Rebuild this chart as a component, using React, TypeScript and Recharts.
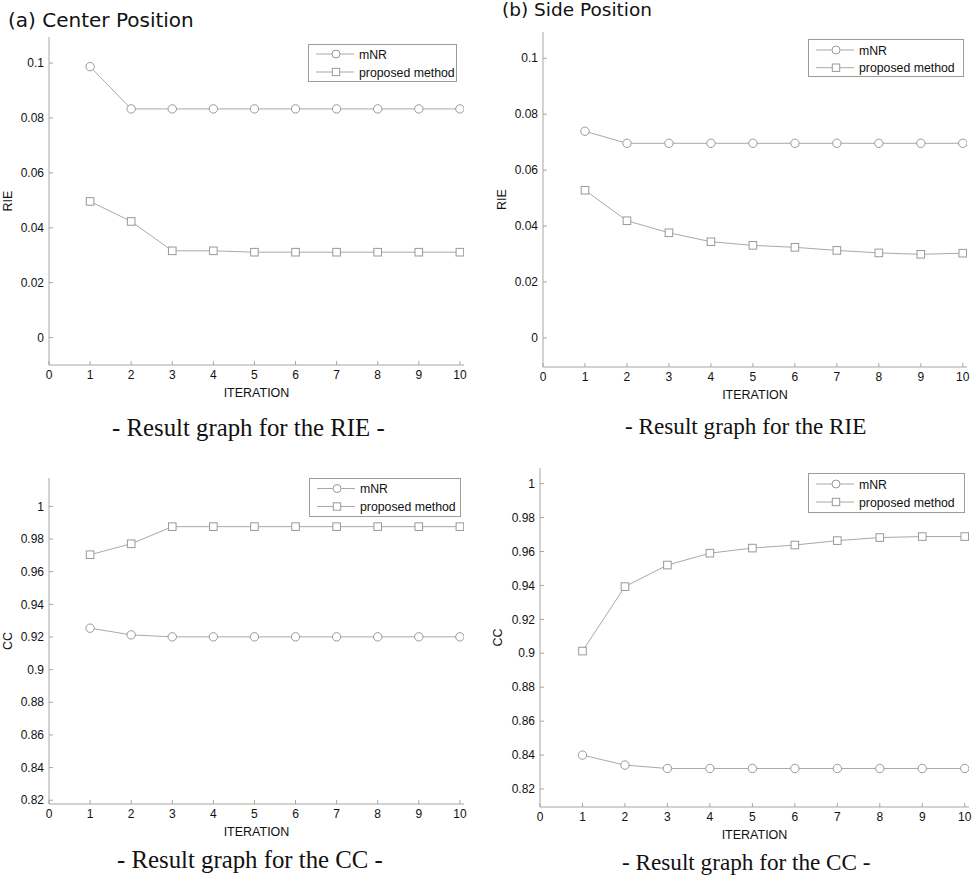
import { LineChart, Line, XAxis, YAxis, Legend } from 'recharts';

const ITERATIONS = [1, 2, 3, 4, 5, 6, 7, 8, 9, 10];
const X_TICKS = [0, 1, 2, 3, 4, 5, 6, 7, 8, 9, 10];

// (a) center position
const CENTER_RIE_MNR = [0.0987, 0.0833, 0.0833, 0.0833, 0.0833, 0.0833, 0.0833, 0.0833, 0.0833, 0.0833];
const CENTER_RIE_PROPOSED = [0.0496, 0.0423, 0.0316, 0.0316, 0.0311, 0.0311, 0.0311, 0.0311, 0.0311, 0.0311];
const CENTER_CC_MNR = [0.9254, 0.9213, 0.9201, 0.9201, 0.9201, 0.9201, 0.9201, 0.9201, 0.9201, 0.9201];
const CENTER_CC_PROPOSED = [0.9704, 0.9771, 0.9876, 0.9876, 0.9876, 0.9876, 0.9876, 0.9876, 0.9876, 0.9876];

// (b) side position
const SIDE_RIE_MNR = [0.0739, 0.0696, 0.0696, 0.0696, 0.0696, 0.0696, 0.0696, 0.0696, 0.0696, 0.0696];
const SIDE_RIE_PROPOSED = [0.0528, 0.0419, 0.0376, 0.0344, 0.0331, 0.0324, 0.0313, 0.0304, 0.0299, 0.0303];
const SIDE_CC_MNR = [0.84, 0.8341, 0.8321, 0.8321, 0.8321, 0.8321, 0.8321, 0.8321, 0.8321, 0.8321];
const SIDE_CC_PROPOSED = [0.9013, 0.9393, 0.952, 0.959, 0.962, 0.9638, 0.9664, 0.9682, 0.9688, 0.9688];

const RIE_TICKS = [0, 0.02, 0.04, 0.06, 0.08, 0.1];
const CC_TICKS = [0.82, 0.84, 0.86, 0.88, 0.9, 0.92, 0.94, 0.96, 0.98, 1];

const SERIES_NAMES = ['mNR', 'proposed method'];

const LINE = '#a9a9a9';
const MARK = '#999';
const AXIS = '#a6a6a6';
const TEXT = '#111';
const SANS = '"Liberation Sans", Arial, sans-serif';

function buildRows(mnr: number[], proposed: number[]) {
  return ITERATIONS.map((it, i) => ({ it, mnr: mnr[i], proposed: proposed[i] }));
}

function XTick(props: any) {
  const { x, y, payload } = props;
  return (
    <g>
      <line x1={x} x2={x} y1={y} y2={y - 4} stroke={AXIS} />
      <text x={x} y={y + 14.3} textAnchor="middle" fontSize={12} fontFamily={SANS} fill={TEXT}>
        {payload.value}
      </text>
    </g>
  );
}

function YTick(props: any) {
  const { x, y, payload } = props;
  return (
    <g>
      <line x1={x} x2={x + 4} y1={y} y2={y} stroke={AXIS} />
      <text x={x - 5} y={y + 4.2} textAnchor="end" fontSize={12} fontFamily={SANS} fill={TEXT}>
        {payload.value}
      </text>
    </g>
  );
}

function CircleDot(props: any) {
  const { cx, cy } = props;
  if (cx == null || cy == null) return <g />;
  return <circle cx={cx} cy={cy} r={4.2} fill="#fff" stroke={MARK} strokeWidth={1} />;
}

function SquareDot(props: any) {
  const { cx, cy } = props;
  if (cx == null || cy == null) return <g />;
  return <rect x={cx - 3.8} y={cy - 3.8} width={7.6} height={7.6} fill="#fff" stroke={MARK} strokeWidth={1} />;
}

function makeLegend(boxW: number, boxH: number, rows: number[]) {
  return function LegendBox(props: any) {
    const items = props.payload || [];
    return (
      <svg width={boxW} height={boxH} style={{ display: 'block' }}>
        <rect x={0.5} y={0.5} width={boxW - 1} height={boxH - 1} fill="#fff" stroke="#9c9c9c" />
        {items.map((entry: any, i: number) => {
          const cy = rows[i];
          return (
            <g key={entry.value}>
              <line x1={8} x2={46} y1={cy} y2={cy} stroke={LINE} />
              {entry.type === 'square' ? (
                <rect x={24.3} y={cy - 3.7} width={7.4} height={7.4} fill="#fff" stroke={MARK} />
              ) : (
                <circle cx={28} cy={cy} r={4} fill="#fff" stroke={MARK} />
              )}
              <text x={51} y={cy + 4.5} fontSize={12.3} fontFamily={SANS} fill={TEXT}>
                {entry.value}
              </text>
            </g>
          );
        })}
      </svg>
    );
  };
}

interface PanelProps {
  left: number;
  top: number;
  width: number;
  height: number;
  margin: { top: number; right: number; bottom: number; left: number };
  yWidth: number;
  yDomain: [number, number];
  yTicks: number[];
  yLabel: string;
  yLabelOffset: number;
  mnr: number[];
  proposed: number[];
  legendPos: { left: number; top: number; w: number; h: number; rows: number[] };
}

function Panel(p: PanelProps) {
  const data = buildRows(p.mnr, p.proposed);
  const LegendContent = makeLegend(p.legendPos.w, p.legendPos.h, p.legendPos.rows);
  return (
    <div style={{ position: 'absolute', left: p.left, top: p.top }}>
      <LineChart width={p.width} height={p.height} data={data} margin={p.margin}>
        <XAxis
          dataKey="it"
          type="number"
          domain={[0, 10.1]}
          ticks={X_TICKS}
          interval={0}
          allowDataOverflow
          stroke={AXIS}
          tickSize={0}
          tickMargin={0}
          tick={<XTick />}
          height={35}
          label={{ value: 'ITERATION', position: 'insideBottom', offset: 3.5, fontSize: 12.5, fontFamily: SANS, fill: TEXT }}
        />
        <YAxis
          type="number"
          domain={p.yDomain}
          ticks={p.yTicks}
          interval={0}
          allowDataOverflow
          stroke={AXIS}
          tickSize={0}
          tickMargin={0}
          width={p.yWidth}
          tick={<YTick />}
          label={{
            value: p.yLabel,
            angle: -90,
            position: 'insideLeft',
            offset: p.yLabelOffset,
            fontSize: 12.5,
            fontFamily: SANS,
            fill: TEXT,
            style: { textAnchor: 'middle' },
          }}
        />
        <Legend
          layout="vertical"
          align="center"
          verticalAlign="middle"
          content={<LegendContent />}
          wrapperStyle={{ left: p.legendPos.left, top: p.legendPos.top, width: p.legendPos.w, height: p.legendPos.h }}
        />
        <Line
          dataKey="mnr"
          name={SERIES_NAMES[0]}
          legendType="circle"
          type="linear"
          stroke={LINE}
          strokeWidth={1}
          dot={<CircleDot />}
          activeDot={false}
          isAnimationActive={false}
        />
        <Line
          dataKey="proposed"
          name={SERIES_NAMES[1]}
          legendType="square"
          type="linear"
          stroke={LINE}
          strokeWidth={1}
          dot={<SquareDot />}
          activeDot={false}
          isAnimationActive={false}
        />
      </LineChart>
    </div>
  );
}

const captionStyle = {
  position: 'absolute' as const,
  fontFamily: '"Liberation Serif", "Times New Roman", serif',
  color: '#111',
  whiteSpace: 'nowrap' as const,
  lineHeight: '24px',
};

const titleStyle = {
  position: 'absolute' as const,
  fontFamily: '"DejaVu Sans", Verdana, sans-serif',
  color: '#111',
  whiteSpace: 'nowrap' as const,
};

export default function App() {
  return (
    <div style={{ position: 'absolute', left: 0, top: 0, width: 975, height: 878, background: '#fff', overflow: 'hidden' }}>
      <div style={{ ...titleStyle, left: 8, top: 8, fontSize: 20, lineHeight: '24px' }}>(a) Center Position</div>
      <div style={{ ...titleStyle, left: 502, top: 0, fontSize: 18.5, lineHeight: '20px' }}>(b) Side Position</div>

      <Panel
        left={0}
        top={0}
        width={480}
        height={420}
        margin={{ top: 37, right: 16, bottom: 20, left: 0 }}
        yWidth={49}
        yDomain={[-0.01, 0.1095]}
        yTicks={RIE_TICKS}
        yLabel="RIE"
        yLabelOffset={7.7}
        mnr={CENTER_RIE_MNR}
        proposed={CENTER_RIE_PROPOSED}
        legendPos={{ left: 308, top: 44, w: 149, h: 38, rows: [10, 28] }}
      />
      <Panel
        left={490}
        top={0}
        width={485}
        height={420}
        margin={{ top: 32, right: 8, bottom: 18, left: 0 }}
        yWidth={53}
        yDomain={[-0.0104, 0.1094]}
        yTicks={RIE_TICKS}
        yLabel="RIE"
        yLabelOffset={11.3}
        mnr={SIDE_RIE_MNR}
        proposed={SIDE_RIE_PROPOSED}
        legendPos={{ left: 318, top: 39, w: 156, h: 38, rows: [11, 28.7] }}
      />
      <Panel
        left={0}
        top={440}
        width={480}
        height={420}
        margin={{ top: 38, right: 16, bottom: 21, left: 0 }}
        yWidth={49}
        yDomain={[0.8177, 1.0174]}
        yTicks={CC_TICKS}
        yLabel="CC"
        yLabelOffset={7.3}
        mnr={CENTER_CC_MNR}
        proposed={CENTER_CC_PROPOSED}
        legendPos={{ left: 309, top: 38, w: 152, h: 39, rows: [10.5, 28.5] }}
      />
      <Panel
        left={490}
        top={440}
        width={485}
        height={420}
        margin={{ top: 28, right: 6, bottom: 18, left: 0 }}
        yWidth={50}
        yDomain={[0.8094, 1.0092]}
        yTicks={CC_TICKS}
        yLabel="CC"
        yLabelOffset={7.3}
        mnr={SIDE_CC_MNR}
        proposed={SIDE_CC_PROPOSED}
        legendPos={{ left: 318, top: 33, w: 157, h: 40, rows: [11, 29] }}
      />

      <div style={{ ...captionStyle, left: 112, top: 416, fontSize: 24.8 }}>- Result graph for the RIE -</div>
      <div style={{ ...captionStyle, left: 625, top: 413.5, fontSize: 23.2 }}>- Result graph for the RIE</div>
      <div style={{ ...captionStyle, left: 117, top: 847.5, fontSize: 24.8 }}>- Result graph for the CC -</div>
      <div style={{ ...captionStyle, left: 622, top: 850, fontSize: 23.2 }}>- Result graph for the CC -</div>
    </div>
  );
}
